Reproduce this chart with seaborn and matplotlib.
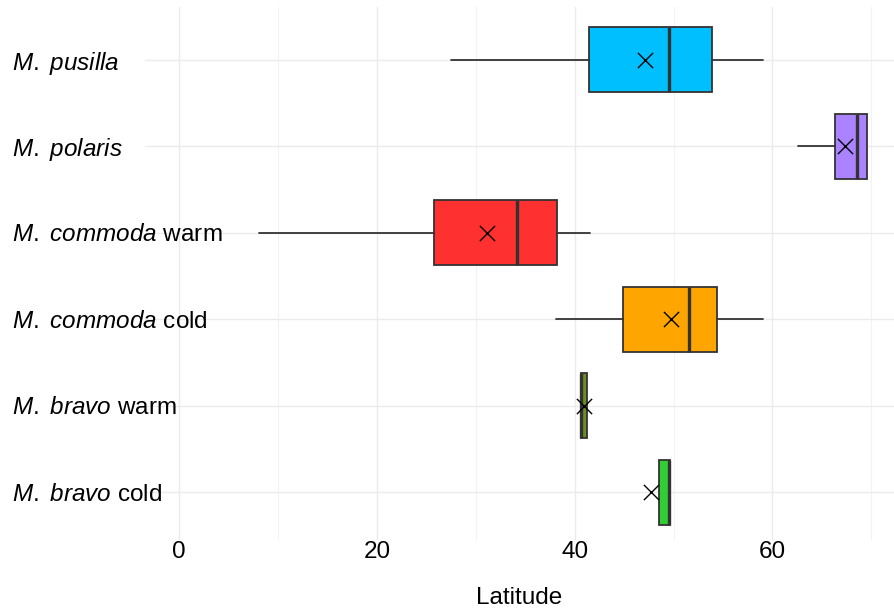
import numpy as np
import pandas as pd
import seaborn as sns
import matplotlib as mpl
import matplotlib.pyplot as plt
from matplotlib.ticker import MultipleLocator

# box statistics (latitude, degrees)
groups  = ['M. pusilla', 'M. polaris', 'M. commoda warm', 'M. commoda cold', 'M. bravo warm', 'M. bravo cold']
labels  = [r'$\it{M.}$ $\it{pusilla}$', r'$\it{M.}$ $\it{polaris}$', r'$\it{M.}$ $\it{commoda}$ warm',
           r'$\it{M.}$ $\it{commoda}$ cold', r'$\it{M.}$ $\it{bravo}$ warm', r'$\it{M.}$ $\it{bravo}$ cold']
whislo  = [27.5, 62.6,  8.1, 38.1, 40.6, 48.5]
q1      = [41.4, 66.3, 25.8, 44.9, 40.6, 48.5]
med     = [49.5, 68.6, 34.2, 51.6, 40.65, 49.5]
q3      = [53.9, 69.6, 38.2, 54.4, 41.2, 49.6]
whishi  = [59.0, 69.6, 41.5, 59.0, 41.2, 49.6]
means   = [47.1, 67.3, 31.1, 49.7, 40.9, 47.7]
colors  = ['#00BFFF', '#AB82FF', '#FF3030', '#FFA500', '#6B8E23', '#32CD32']

sns.set_theme(style='whitegrid')
plt.rcParams['font.family'] = ['Liberation Sans', 'DejaVu Sans']
plt.rcParams['mathtext.fontset'] = 'custom'
plt.rcParams['mathtext.rm'] = 'Liberation Sans'
plt.rcParams['mathtext.it'] = 'Liberation Sans:italic'

fig = plt.figure(figsize=(8.94, 6.08), dpi=100)
ax = fig.add_axes([145/894, 68/608, 1 - 145/894, (540 - 7)/608])

pos = np.arange(len(groups))
stats = [dict(label=g, whislo=a, q1=b, med=c, q3=d, whishi=e, fliers=[])
         for g, a, b, c, d, e in zip(groups, whislo, q1, med, q3, whishi)]
edge = '#333333'
bp = ax.bxp(stats, positions=pos, vert=False, widths=0.75, patch_artist=True,
            showcaps=False, showfliers=False,
            boxprops=dict(edgecolor=edge, linewidth=1.3),
            whiskerprops=dict(color=edge, linewidth=1.3),
            medianprops=dict(color=edge, linewidth=2.4))
for patch, col in zip(bp['boxes'], colors):
    patch.set_facecolor(col)

df = pd.DataFrame({'group': groups, 'mean': means, 'pos': pos})
sns.scatterplot(data=df, x='mean', y='pos', marker='x', s=120, color='black',
                linewidth=1.0, ax=ax, zorder=5, legend=False)

ax.set_xlim(-3.47, 72.3)
ax.set_ylim(5.55, -0.61)
ax.set_yticks(pos)
ax.set_yticklabels(labels)
ax.xaxis.set_major_locator(MultipleLocator(20))
ax.xaxis.set_minor_locator(MultipleLocator(10))
ax.grid(which='major', color='#EBEBEB', linewidth=1.0)
ax.grid(which='minor', axis='x', color='#F2F2F2', linewidth=0.8)
ax.set_axisbelow(True)
for s in ax.spines.values():
    s.set_visible(False)

ax.tick_params(axis='both', which='both', colors='black')
ax.tick_params(axis='x', which='both', length=0, labelsize=17.5, pad=1)
ax.tick_params(axis='y', length=0, labelsize=17.5, pad=133*72/100)
for t in ax.get_yticklabels():
    t.set_ha('left')
ax.set_xlabel('Latitude', fontsize=17.5, labelpad=17, color='black')
ax.set_ylabel('')

fig.savefig('out.png', dpi=100)
